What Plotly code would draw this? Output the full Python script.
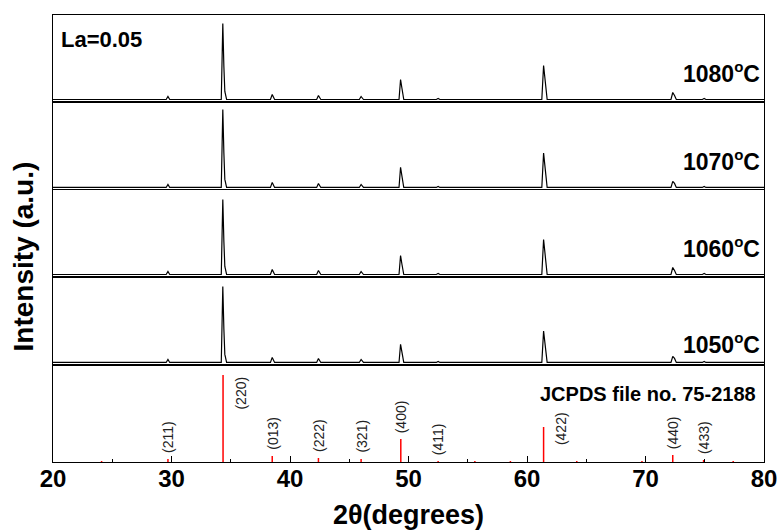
import plotly.graph_objects as go
from plotly.subplots import make_subplots

# ---- data ----
two_theta = [20, 24, 29.55, 29.7, 29.85, 34.2, 34.33, 34.42, 34.5, 34.65,
             38.35, 38.5, 38.7, 42.25, 42.4, 42.6, 45.85, 46.0, 46.2,
             49.2, 49.33, 49.45, 49.6, 52.35, 52.5, 52.65,
             61.25, 61.4, 61.55, 61.7, 72.15, 72.3, 72.45, 72.6,
             74.8, 74.95, 75.1, 80]

i_1080 = [0, 0, 0, 3, 0, 0, 76, 33, 8, 0,
          0, 5, 0, 0, 4, 0, 0, 3, 0,
          0, 20, 11, 0, 0, 1, 0,
          0, 34, 18, 0, 0, 7, 4, 0,
          0, 1, 0, 0]
i_1070 = [0, 0, 0, 3, 0, 0, 77, 34, 8, 0,
          0, 5, 0, 0, 4, 0, 0, 3, 0,
          0, 20, 11, 0, 0, 1, 0,
          0, 34, 18, 0, 0, 6, 4, 0,
          0, 1, 0, 0]
i_1060 = [0, 0, 0, 3, 0, 0, 75, 33, 8, 0,
          0, 5, 0, 0, 4, 0, 0, 3, 0,
          0, 19, 10, 0, 0, 1, 0,
          0, 35, 19, 0, 0, 7, 4, 0,
          0, 1, 0, 0]
i_1050 = [0, 0, 0, 3, 0, 0, 75, 33, 8, 0,
          0, 5, 0, 0, 4, 0, 0, 3, 0,
          0, 18, 10, 0, 0, 1, 0,
          0, 31, 17, 0, 0, 6, 4, 0,
          0, 1, 0, 0]

series_names = ["1080", "1070", "1060", "1050"]
series_values = [i_1080, i_1070, i_1060, i_1050]
label_heights = [27, 27, 27, 19]

ref_pos = [29.7, 34.35, 38.5, 42.4, 46.0, 49.35, 52.5, 61.4, 72.3, 74.9]
ref_int = [3, 87, 6, 4, 3, 23, 1, 35, 7, 2]
ref_hkl = ["(211)", "(220)", "(013)", "(222)", "(321)", "(400)", "(411)",
           "(422)", "(440)", "(433)"]
minor_pos = [24.1, 55.6, 58.6, 64.2, 69.7, 77.4]
minor_int = [1, 1, 1, 1, 1, 1]

x_ticks = [20, 30, 40, 50, 60, 70, 80]

FONT = "Liberation Sans, Arial, sans-serif"

fig = make_subplots(rows=5, cols=1, shared_xaxes=True, vertical_spacing=0,
                    row_heights=[87, 88, 87, 88, 97])

for r, (name, vals, lh) in enumerate(zip(series_names, series_values, label_heights), start=1):
    fig.add_trace(go.Scatter(x=two_theta, y=vals, mode="lines",
                             line=dict(color="black", width=1.2),
                             showlegend=False, hoverinfo="skip"), row=r, col=1)
    fig.add_annotation(text=f"<b>{name}<sup><span style='font-size:15px'>o</span></sup>C</b>",
                       x=1, y=lh, xref="paper", yref=f"y{r}", xanchor="right", yanchor="middle",
                       xshift=-2, showarrow=False,
                       font=dict(family=FONT, size=23, color="black"))

# reference sticks
sx, sy = [], []
for p, h in zip(ref_pos + minor_pos, ref_int + minor_int):
    sx += [p, p, None]
    sy += [0, h, None]
fig.add_trace(go.Scatter(x=sx, y=sy, mode="lines", line=dict(color="#ff0000", width=1.5),
                         showlegend=False, hoverinfo="skip"), row=5, col=1)

for p, h, lab in zip(ref_pos, ref_int, ref_hkl):
    if lab in ("(220)", "(422)"):
        top = 87 if lab == "(220)" else 52
        fig.add_annotation(text=lab, x=p, y=top, xref="x5", yref="y5", textangle=-90,
                           xanchor="center", yanchor="top", xshift=17, showarrow=False,
                           font=dict(family=FONT, size=14, color="#222222"))
    else:
        fig.add_annotation(text=lab, x=p, y=h, xref="x5", yref="y5", textangle=-90,
                           xanchor="center", yanchor="bottom", yshift=4, showarrow=False,
                           font=dict(family=FONT, size=14, color="#222222"))

fig.add_annotation(text="<b>JCPDS file no. 75-2188</b>", x=1, y=74, xref="paper", yref="y5",
                   xanchor="right", yanchor="middle", xshift=-6, yshift=-6, showarrow=False,
                   font=dict(family=FONT, size=20, color="black"))
fig.add_annotation(text="<b>La=0.05</b>", x=0, y=60, xref="paper", yref="y1",
                   xanchor="left", yanchor="middle", xshift=6, showarrow=False,
                   font=dict(family=FONT, size=22, color="black"))

axis_common = dict(showline=True, mirror=True, linecolor="black", linewidth=1.3,
                   showgrid=False, zeroline=False, automargin=False)
for r in range(1, 6):
    if r < 5:
        fig.update_xaxes(range=[20, 80], ticks="", showticklabels=False, row=r, col=1,
                         **axis_common)
        fig.update_yaxes(range=[-2.5, 84.5], ticks="", showticklabels=False, row=r, col=1,
                         **axis_common)
    else:
        fig.update_xaxes(range=[20, 80], tickvals=x_ticks, ticks="inside", ticklen=6,
                         tickwidth=1.3, tickcolor="black", ticklabelstandoff=-5,
                         minor=dict(dtick=5, ticks="inside", ticklen=3, tickcolor="black"),
                         tickfont=dict(family=FONT, size=24, color="black", weight="bold"),
                         title=dict(text="<b>2θ(degrees)</b>", standoff=22,
                                    font=dict(family=FONT, size=27, color="black")),
                         row=r, col=1, **axis_common)
        fig.update_yaxes(range=[0, 97], ticks="", showticklabels=False, row=r, col=1,
                         **axis_common)

fig.add_annotation(text="<b>Intensity (a.u.)</b>", x=0, y=0.5, xref="paper",
                   yref="paper", textangle=-90, showarrow=False,
                   xanchor="center", yanchor="middle", xshift=-30, yshift=-18,
                   font=dict(family=FONT, size=28, color="black"))

fig.update_layout(width=779, height=530, margin=dict(l=53, r=15, t=15, b=68),
                  plot_bgcolor="white", paper_bgcolor="white")

fig.write_html("out.html")
